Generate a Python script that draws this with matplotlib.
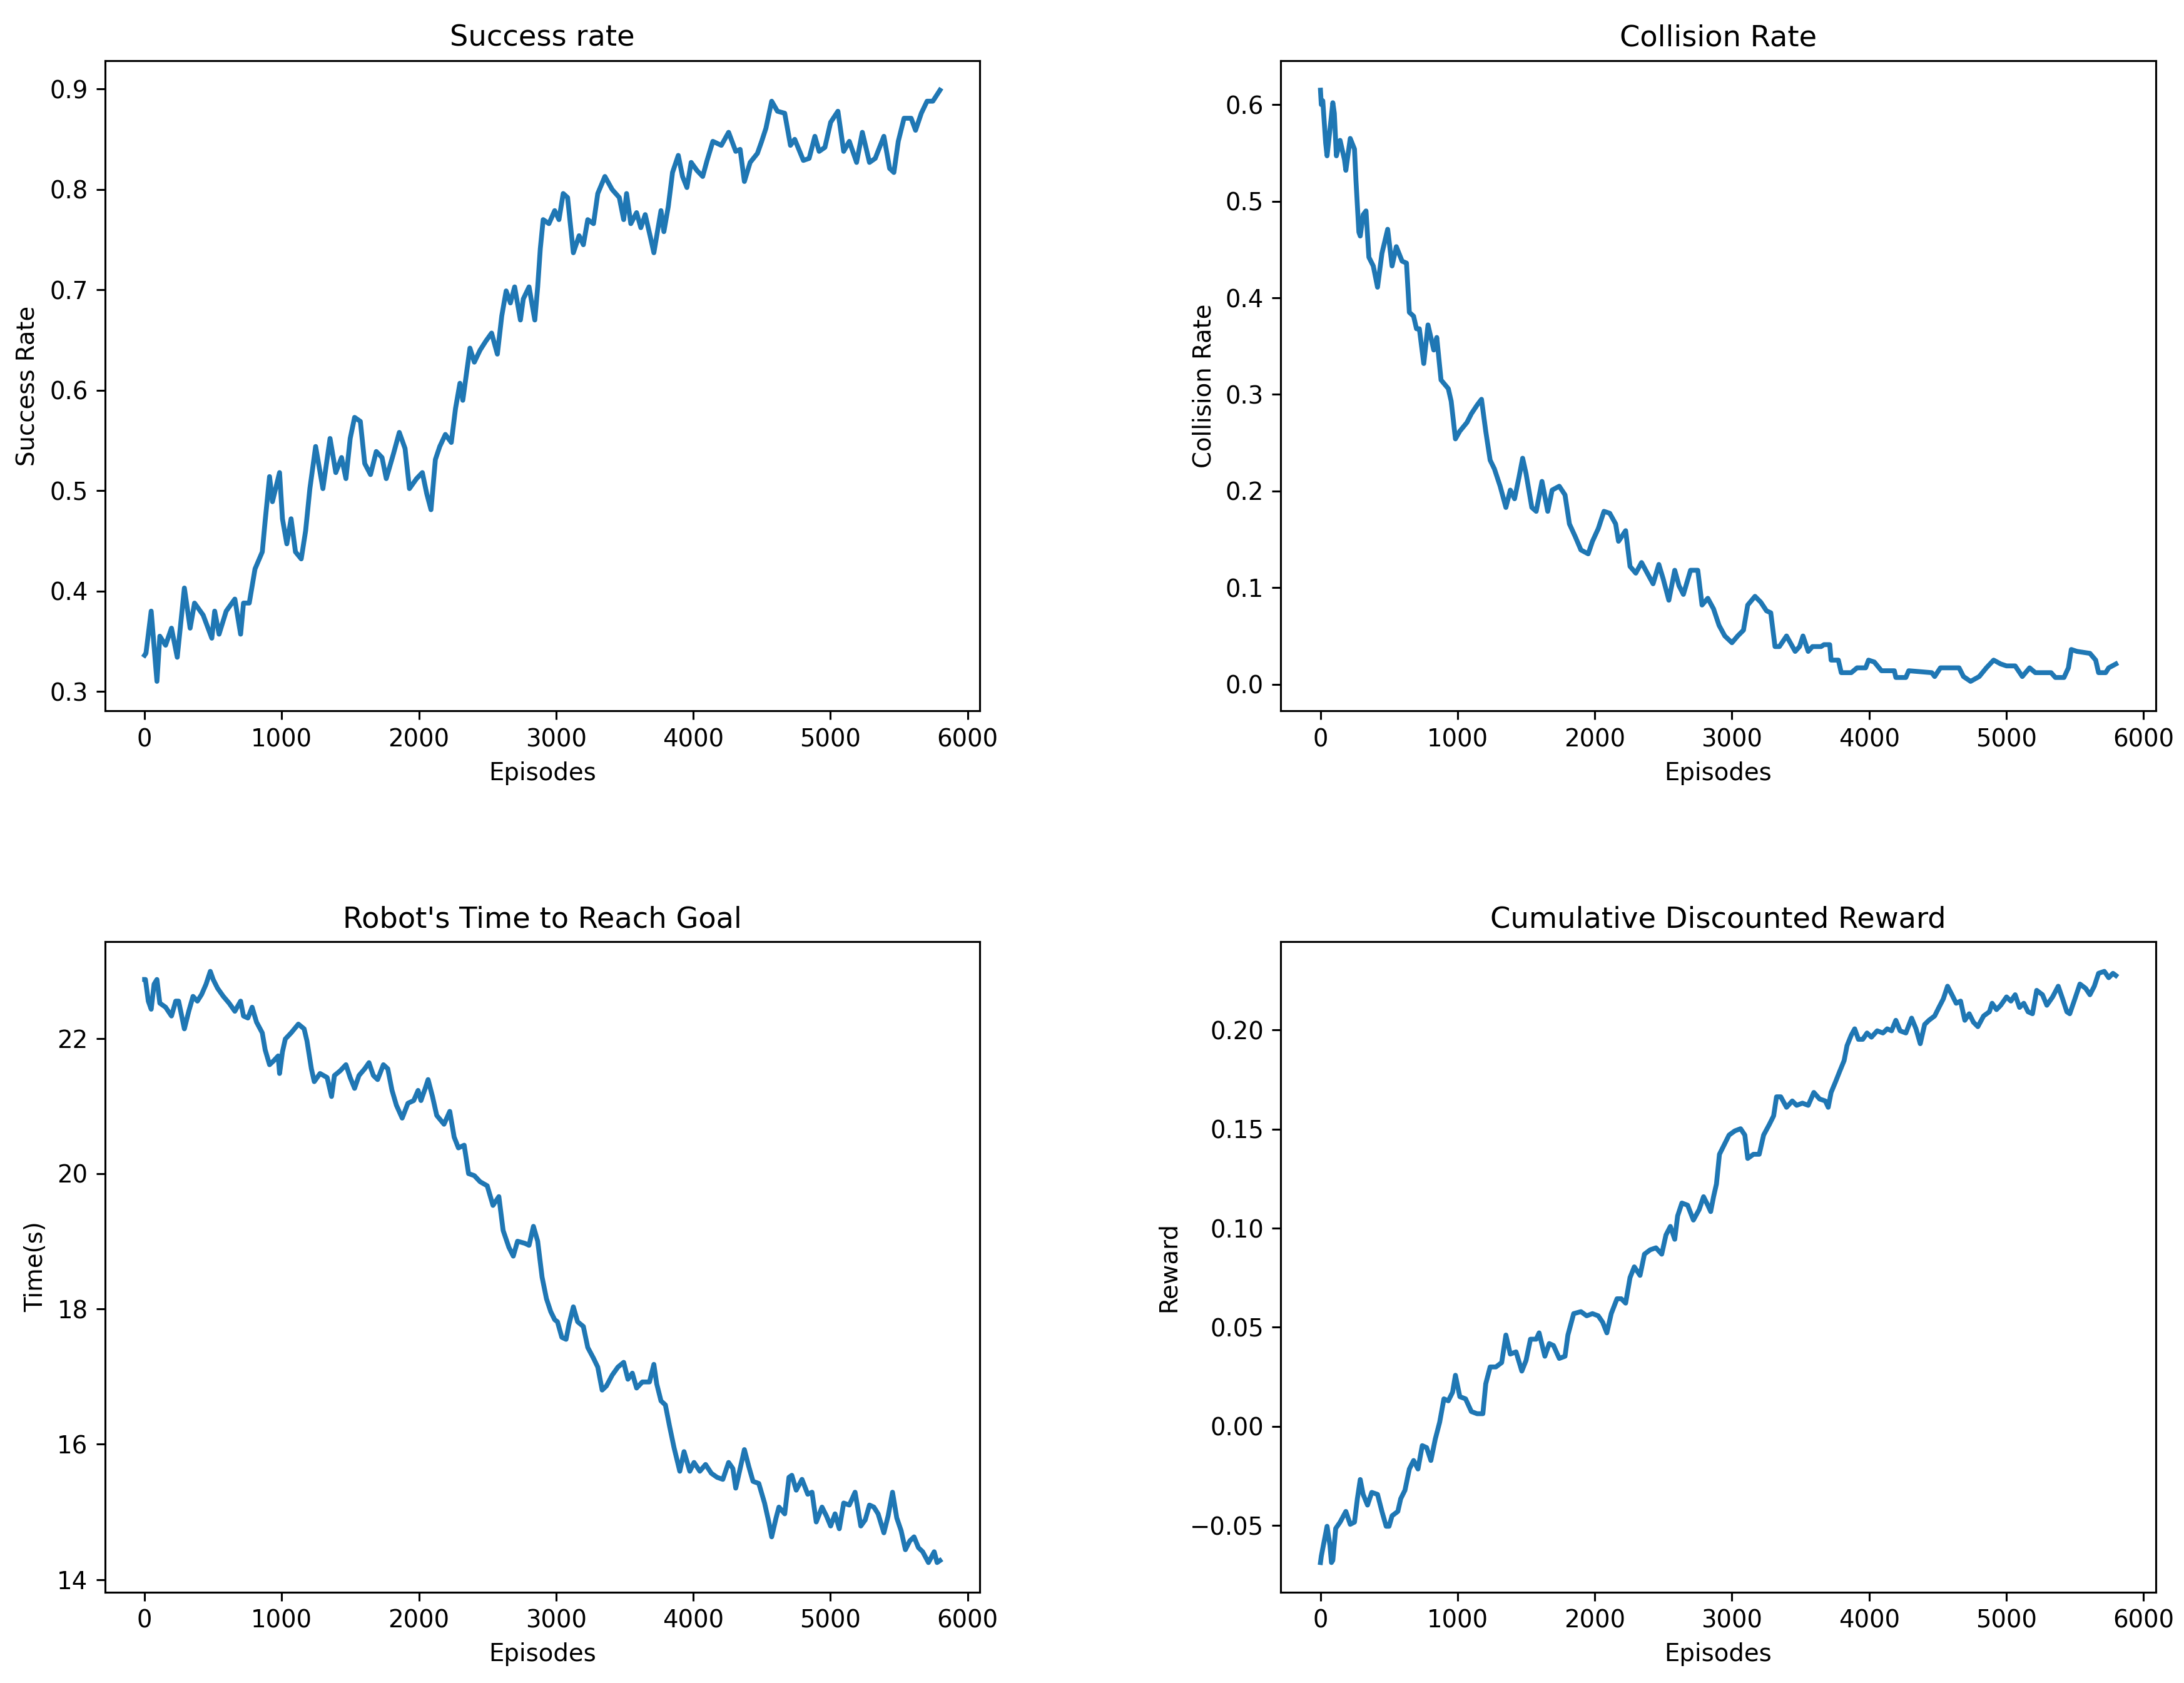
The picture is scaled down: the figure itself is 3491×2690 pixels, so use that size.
import matplotlib
matplotlib.use("Agg")
import matplotlib.pyplot as plt

# values (episode, value)
sr_ep = [0, 10, 48, 90, 111, 153, 196, 238, 290, 332, 364, 427, 490, 511, 543, 595, 658, 700, 721, 763,
         805, 858, 879, 911, 932, 984, 1005, 1037, 1068, 1100, 1142, 1174, 1205, 1247, 1300, 1352, 1394,
         1436, 1468, 1499, 1531, 1573, 1605, 1647, 1689, 1731, 1762, 1815, 1857, 1899, 1931, 1983, 2025,
         2057, 2088, 2120, 2152, 2193, 2236, 2267, 2299, 2320, 2372, 2404, 2446, 2488, 2530, 2572, 2604,
         2636, 2667, 2698, 2740, 2761, 2803, 2845, 2866, 2885, 2906, 2948, 2990, 3021, 3052, 3084, 3126,
         3168, 3199, 3231, 3273, 3304, 3356, 3409, 3461, 3493, 3514, 3545, 3587, 3618, 3650, 3692, 3713,
         3765, 3786, 3818, 3849, 3891, 3922, 3954, 3985, 4027, 4069, 4101, 4143, 4205, 4258, 4310, 4342,
         4373, 4415, 4468, 4499, 4530, 4572, 4614, 4667, 4709, 4740, 4803, 4845, 4887, 4918, 4960, 5002,
         5055, 5097, 5138, 5191, 5233, 5285, 5327, 5390, 5432, 5463, 5495, 5537, 5589, 5621, 5663, 5705,
         5747, 5799]
sr_val = [0.336, 0.338, 0.38, 0.31, 0.355, 0.346, 0.363, 0.334, 0.403, 0.363, 0.388, 0.376, 0.353, 0.38,
          0.357, 0.38, 0.392, 0.357, 0.388, 0.388, 0.422, 0.439, 0.47, 0.514, 0.489, 0.518, 0.472, 0.447,
          0.472, 0.439, 0.432, 0.46, 0.502, 0.544, 0.502, 0.552, 0.518, 0.533, 0.512, 0.552, 0.573, 0.569,
          0.527, 0.516, 0.539, 0.533, 0.512, 0.537, 0.558, 0.542, 0.502, 0.512, 0.518, 0.497, 0.481, 0.531,
          0.544, 0.556, 0.548, 0.582, 0.607, 0.59, 0.642, 0.628, 0.64, 0.649, 0.657, 0.636, 0.674, 0.699,
          0.687, 0.703, 0.67, 0.691, 0.703, 0.67, 0.703, 0.741, 0.77, 0.766, 0.779, 0.77, 0.796, 0.792,
          0.737, 0.754, 0.745, 0.77, 0.766, 0.796, 0.813, 0.80, 0.792, 0.77, 0.796, 0.766, 0.777, 0.762,
          0.775, 0.75, 0.737, 0.779, 0.758, 0.783, 0.817, 0.834, 0.813, 0.802, 0.827, 0.819, 0.813, 0.829,
          0.848, 0.844, 0.857, 0.838, 0.84, 0.808, 0.827, 0.836, 0.848, 0.861, 0.888, 0.878, 0.876, 0.844,
          0.85, 0.829, 0.831, 0.853, 0.838, 0.842, 0.867, 0.878, 0.838, 0.848, 0.827, 0.857, 0.827, 0.831,
          0.853, 0.821, 0.817, 0.848, 0.871, 0.871, 0.859, 0.876, 0.888, 0.888, 0.899]

cr_ep = [0, 6, 17, 38, 48, 69, 90, 101, 116, 143, 175, 185, 217, 248, 259, 280, 290, 311, 332, 353, 385,
         416, 448, 490, 522, 553, 595, 627, 648, 679, 700, 721, 753, 784, 826, 848, 879, 932, 953, 984,
         1016, 1068, 1100, 1142, 1174, 1205, 1237, 1268, 1310, 1352, 1384, 1415, 1447, 1474, 1499, 1541,
         1573, 1615, 1657, 1689, 1741, 1783, 1815, 1857, 1899, 1952, 1983, 2025, 2067, 2109, 2152, 2173,
         2225, 2257, 2299, 2341, 2383, 2425, 2467, 2499, 2540, 2583, 2614, 2646, 2698, 2751, 2782, 2824,
         2866, 2906, 2948, 3000, 3042, 3084, 3115, 3168, 3210, 3252, 3283, 3314, 3346, 3398, 3461, 3493,
         3518, 3556, 3587, 3650, 3671, 3713, 3723, 3776, 3797, 3870, 3912, 3975, 3996, 4038, 4090, 4184,
         4195, 4268, 4289, 4457, 4478, 4520, 4656, 4688, 4740, 4803, 4855, 4908, 4960, 5002, 5065, 5117,
         5170, 5212, 5327, 5358, 5421, 5453, 5474, 5516, 5610, 5652, 5673, 5725, 5747, 5799]
cr_val = [0.615, 0.60, 0.604, 0.56, 0.547, 0.574, 0.602, 0.591, 0.547, 0.563, 0.543, 0.532, 0.565, 0.554,
          0.521, 0.468, 0.464, 0.486, 0.49, 0.442, 0.433, 0.411, 0.446, 0.471, 0.433, 0.453, 0.438, 0.436,
          0.385, 0.381, 0.368, 0.368, 0.332, 0.372, 0.346, 0.359, 0.315, 0.306, 0.293, 0.254, 0.262, 0.271,
          0.28, 0.289, 0.295, 0.262, 0.232, 0.223, 0.205, 0.183, 0.201, 0.192, 0.214, 0.234, 0.218, 0.183,
          0.179, 0.21, 0.179, 0.201, 0.205, 0.196, 0.166, 0.153, 0.139, 0.135, 0.148, 0.161, 0.179, 0.177,
          0.166, 0.148, 0.159, 0.122, 0.115, 0.126, 0.115, 0.104, 0.124, 0.109, 0.087, 0.118, 0.102, 0.093,
          0.118, 0.118, 0.082, 0.089, 0.078, 0.061, 0.05, 0.043, 0.05, 0.056, 0.082, 0.091, 0.085, 0.076,
          0.074, 0.039, 0.039, 0.05, 0.034, 0.039, 0.05, 0.034, 0.039, 0.039, 0.041, 0.041, 0.025, 0.025,
          0.012, 0.012, 0.017, 0.017, 0.025, 0.023, 0.014, 0.014, 0.007, 0.007, 0.014, 0.012, 0.008, 0.017,
          0.017, 0.008, 0.003, 0.008, 0.017, 0.025, 0.021, 0.019, 0.019, 0.008, 0.017, 0.012, 0.012, 0.007,
          0.007, 0.017, 0.036, 0.034, 0.032, 0.025, 0.012, 0.012, 0.017, 0.021]

tm_ep = [0, 6, 27, 48, 69, 90, 111, 153, 196, 227, 248, 290, 322, 353, 385, 416, 448, 479, 500, 532, 574,
         616, 658, 700, 721, 753, 784, 816, 858, 879, 911, 942, 974, 984, 1005, 1026, 1068, 1121, 1163,
         1184, 1216, 1237, 1279, 1331, 1363, 1384, 1426, 1468, 1499, 1531, 1563, 1605, 1636, 1668, 1699,
         1741, 1773, 1804, 1836, 1878, 1920, 1962, 1994, 2015, 2046, 2067, 2099, 2130, 2183, 2225, 2257,
         2288, 2330, 2362, 2404, 2446, 2498, 2540, 2583, 2614, 2656, 2688, 2719, 2772, 2803, 2835, 2866,
         2898, 2930, 2961, 2990, 3010, 3042, 3073, 3094, 3126, 3157, 3199, 3231, 3273, 3304, 3336, 3367,
         3409, 3451, 3493, 3524, 3556, 3587, 3629, 3681, 3713, 3734, 3765, 3797, 3828, 3860, 3902, 3933,
         3975, 4006, 4048, 4090, 4132, 4174, 4216, 4258, 4289, 4310, 4342, 4373, 4405, 4436, 4478, 4520,
         4551, 4572, 4604, 4625, 4667, 4698, 4719, 4751, 4793, 4835, 4866, 4897, 4939, 4971, 5002, 5034,
         5065, 5097, 5138, 5180, 5222, 5254, 5285, 5317, 5348, 5390, 5421, 5453, 5484, 5516, 5547, 5579,
         5610, 5642, 5673, 5715, 5757, 5778, 5799]
tm_val = [22.87, 22.87, 22.55, 22.43, 22.8, 22.87, 22.52, 22.46, 22.33, 22.55, 22.55, 22.14, 22.4, 22.62,
          22.55, 22.65, 22.8, 22.99, 22.87, 22.74, 22.62, 22.52, 22.4, 22.55, 22.33, 22.3, 22.46, 22.24,
          22.08, 21.83, 21.61, 21.67, 21.74, 21.48, 21.8, 21.99, 22.08, 22.21, 22.14, 21.96, 21.55, 21.36,
          21.48, 21.42, 21.14, 21.45, 21.52, 21.61, 21.42, 21.26, 21.45, 21.55, 21.64, 21.45, 21.39, 21.61,
          21.55, 21.23, 21.01, 20.82, 21.04, 21.08, 21.23, 21.08, 21.26, 21.39, 21.14, 20.86, 20.73, 20.92,
          20.54, 20.38, 20.42, 20.0, 19.97, 19.88, 19.82, 19.53, 19.66, 19.16, 18.91, 18.78, 19.0, 18.97,
          18.94, 19.22, 19.0, 18.47, 18.15, 17.96, 17.84, 17.81, 17.58, 17.55, 17.77, 18.03, 17.81, 17.74,
          17.43, 17.27, 17.14, 16.8, 16.86, 17.02, 17.14, 17.21, 16.96, 17.05, 16.83, 16.92, 16.92, 17.18,
          16.89, 16.64, 16.58, 16.26, 15.95, 15.6, 15.89, 15.6, 15.73, 15.6, 15.7, 15.57, 15.51, 15.48,
          15.73, 15.64, 15.35, 15.64, 15.92, 15.67, 15.45, 15.42, 15.13, 14.85, 14.63, 14.91, 15.07, 14.97,
          15.51, 15.54, 15.32, 15.48, 15.26, 15.29, 14.85, 15.07, 14.94, 14.79, 14.97, 14.75, 15.13, 15.1,
          15.29, 14.79, 14.88, 15.1, 15.07, 14.97, 14.69, 14.94, 15.29, 14.91, 14.72, 14.44, 14.57, 14.63,
          14.47, 14.41, 14.25, 14.41, 14.25, 14.28]

rw_ep = [0, 6, 27, 48, 69, 80, 90, 111, 143, 185, 217, 248, 269, 290, 311, 343, 374, 416, 448, 479, 500,
         522, 564, 585, 616, 648, 679, 711, 742, 774, 805, 837, 869, 900, 932, 963, 984, 1016, 1058, 1100,
         1142, 1184, 1205, 1237, 1279, 1321, 1352, 1384, 1426, 1468, 1499, 1531, 1573, 1594, 1636, 1668,
         1699, 1741, 1783, 1804, 1846, 1899, 1941, 1983, 2025, 2057, 2088, 2120, 2162, 2193, 2225, 2257,
         2288, 2330, 2362, 2404, 2446, 2488, 2519, 2551, 2583, 2604, 2635, 2677, 2719, 2761, 2793, 2824,
         2845, 2866, 2887, 2909, 2940, 2979, 3021, 3063, 3094, 3115, 3157, 3199, 3231, 3273, 3304, 3325,
         3356, 3398, 3440, 3472, 3514, 3556, 3597, 3639, 3681, 3702, 3723, 3755, 3786, 3818, 3839, 3870,
         3895, 3922, 3954, 3985, 4017, 4059, 4101, 4132, 4164, 4195, 4226, 4268, 4310, 4342, 4373, 4405,
         4436, 4478, 4509, 4541, 4572, 4604, 4635, 4667, 4698, 4730, 4761, 4793, 4835, 4877, 4897, 4929,
         4960, 5002, 5034, 5065, 5097, 5128, 5159, 5191, 5222, 5264, 5296, 5338, 5379, 5411, 5442, 5463,
         5495, 5537, 5579, 5610, 5642, 5673, 5715, 5747, 5778, 5799]
rw_val = [-0.0687, -0.0655, -0.058, -0.0504, -0.06, -0.0687, -0.0676, -0.0515, -0.0483, -0.0429, -0.0494,
          -0.0483, -0.0365, -0.0268, -0.0343, -0.0397, -0.0333, -0.0343, -0.0429, -0.0504, -0.0504, -0.0451,
          -0.0429, -0.0365, -0.0322, -0.0215, -0.0172, -0.0215, -0.0097, -0.0107, -0.0172, -0.0064, 0.0021,
          0.0139, 0.0129, 0.0172, 0.0258, 0.015, 0.0139, 0.0075, 0.0064, 0.0064, 0.0215, 0.03, 0.03, 0.0322,
          0.0461, 0.0365, 0.0376, 0.0279, 0.0333, 0.044, 0.044, 0.0472, 0.0354, 0.0418, 0.0408, 0.0343,
          0.0354, 0.0461, 0.0569, 0.0579, 0.0558, 0.0569, 0.0558, 0.0526, 0.0472, 0.0569, 0.0644, 0.0644,
          0.0622, 0.0751, 0.0805, 0.0762, 0.0869, 0.0891, 0.0901, 0.0869, 0.0966, 0.1009, 0.0944, 0.1062,
          0.1127, 0.1116, 0.1041, 0.1094, 0.1159, 0.1116, 0.1084, 0.1159, 0.1223, 0.1373, 0.1416, 0.147,
          0.1491, 0.1502, 0.147, 0.1352, 0.1373, 0.1373, 0.147, 0.1524, 0.1567, 0.1663, 0.1663, 0.161,
          0.1642, 0.162, 0.1631, 0.162, 0.1685, 0.1652, 0.1642, 0.161, 0.1685, 0.1738, 0.1792, 0.1846,
          0.1921, 0.1974, 0.2006, 0.1953, 0.1953, 0.1985, 0.1964, 0.1996, 0.1985, 0.2006, 0.1996, 0.2049,
          0.1996, 0.1985, 0.206, 0.2006, 0.1931, 0.2028, 0.2049, 0.2071, 0.2114, 0.2157, 0.2221, 0.2178,
          0.2135, 0.2146, 0.2049, 0.2082, 0.2039, 0.2017, 0.2071, 0.2092, 0.2135, 0.2103, 0.2125, 0.2167,
          0.2146, 0.2178, 0.2114, 0.2135, 0.2092, 0.2082, 0.22, 0.2178, 0.2125, 0.2167, 0.2221, 0.2157,
          0.2092, 0.2082, 0.2146, 0.2232, 0.221, 0.2178, 0.2221, 0.2286, 0.2296, 0.2264, 0.2286, 0.2275]

# larger dpi so text and ticks come out at the reference's size
dpi = 278.5
fig, axs = plt.subplots(2, 2, figsize=(3491 / dpi, 2690 / dpi), dpi=dpi)
fig.subplots_adjust(left=0.048, right=0.987, top=0.964, bottom=0.054, wspace=0.344, hspace=0.355)

panels = [
    (axs[0, 0], sr_ep, sr_val, "Success rate", "Success Rate"),
    (axs[0, 1], cr_ep, cr_val, "Collision Rate", "Collision Rate"),
    (axs[1, 0], tm_ep, tm_val, "Robot's Time to Reach Goal", "Time(s)"),
    (axs[1, 1], rw_ep, rw_val, "Cumulative Discounted Reward", "Reward"),
]

for ax, ep, val, title, ylabel in panels:
    ax.plot(ep, val, color="#1f77b4", linewidth=2.0)
    ax.set_title(title)
    ax.set_xlabel("Episodes")
    ax.set_ylabel(ylabel)

fig.savefig("out.png", dpi=dpi)
